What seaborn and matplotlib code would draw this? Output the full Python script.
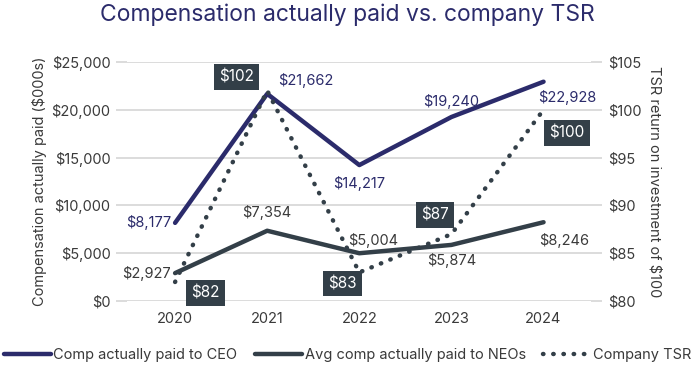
import matplotlib
matplotlib.use("Agg")
import matplotlib.pyplot as plt
import seaborn as sns
import pandas as pd
from matplotlib.lines import Line2D

# === data ===
years = ["2020", "2021", "2022", "2023", "2024"]
ceo_cap = [8177, 21662, 14217, 19240, 22928]
neo_cap = [2927, 7354, 5004, 5874, 8246]
tsr = [82, 102, 83, 87, 100]

NAVY = "#2b2b6b"
SLATE = "#333f48"
GRID = "#d9d9d9"
TXT = "#3a3a3a"

sns.set_theme(style="white")
plt.rcParams["font.family"] = ["Inter", "DejaVu Sans"]

df = pd.DataFrame({"year": years, "ceo": ceo_cap, "neo": neo_cap, "tsr": tsr})
df["x"] = range(len(years))

fig = plt.figure(figsize=(6.95, 3.75), dpi=100)
ax = fig.add_axes([0.183, 0.197, 0.668, 0.638])
ax2 = ax.twinx()

sns.lineplot(data=df, x="x", y="ceo", ax=ax, color=NAVY, lw=3.2, zorder=4)
sns.lineplot(data=df, x="x", y="neo", ax=ax, color=SLATE, lw=3.2, zorder=4)
sns.lineplot(data=df, x="x", y="tsr", ax=ax2, color=SLATE, lw=3.2,
             linestyle=(0, (0.1, 2.2)), dash_capstyle="round", zorder=3)

ax.set_xlim(-0.52, 4.52)
ax.set_ylim(0, 25000)
ax2.set_ylim(80, 105)
ax.set_yticks(range(0, 25001, 5000))
ax.set_yticklabels([f"${v:,}" for v in range(0, 25001, 5000)])
ax2.set_yticks(range(80, 106, 5))
ax2.set_yticklabels([f"${v}" for v in range(80, 106, 5)])
ax.set_xticks(df["x"])
ax.set_xticklabels(years)
ax.yaxis.grid(True, color=GRID, lw=1.3)
ax.set_axisbelow(True)
for a in (ax, ax2):
    for s in a.spines.values():
        s.set_visible(False)
    a.tick_params(axis="y", length=8, color=GRID, width=1.3, labelsize=10.5,
                  labelcolor=TXT, pad=4)
ax.tick_params(axis="x", length=0, labelsize=10.5, labelcolor=TXT, pad=8)
ax.set_xlabel("")
ax.set_ylabel("Compensation actually paid ($000s)", fontsize=10.5, color=TXT, labelpad=3)
ax2.set_ylabel("TSR return on investment of $100", fontsize=10.5, color=TXT,
               rotation=270, labelpad=14)

# value labels (offsets in points)
ceo_off = [(-3, 0, "right", "center"), (8, 4, "left", "bottom"),
           (0, -8, "center", "top"), (0, 6, "center", "bottom"),
           (-4, -6, "left", "top")]
neo_off = [(-3, 0, "right", "center"), (0, 8, "center", "bottom"),
           (-8, 4, "left", "bottom"), (0, -6, "center", "top"),
           (-3, -8, "left", "top")]
for i, (dx, dy, ha, va) in enumerate(ceo_off):
    ax.annotate(f"${ceo_cap[i]:,}", (i, ceo_cap[i]), xytext=(dx, dy),
                textcoords="offset points", ha=ha, va=va, fontsize=10.5, color=NAVY)
for i, (dx, dy, ha, va) in enumerate(neo_off):
    ax.annotate(f"${neo_cap[i]:,}", (i, neo_cap[i]), xytext=(dx, dy),
                textcoords="offset points", ha=ha, va=va, fontsize=10.5, color=TXT)

tsr_off = [(22, -8), (-22, 10), (-12, -8), (-12, 14), (17, -17)]
for i, (dx, dy) in enumerate(tsr_off):
    ax2.annotate(f"${tsr[i]}", (i, tsr[i]), xytext=(dx, dy),
                 textcoords="offset points", ha="center", va="center",
                 fontsize=11, color="white", zorder=6,
                 bbox=dict(boxstyle="square,pad=0.35", fc=SLATE, ec="none"))

fig.suptitle("Compensation actually paid vs. company TSR", x=0.5, y=0.99,
             fontsize=16.5, color=NAVY)

handles = [Line2D([], [], color=NAVY, lw=3.2),
           Line2D([], [], color=SLATE, lw=3.2),
           Line2D([], [], color=SLATE, lw=3.2, linestyle=(0, (0.1, 2.2)),
                  dash_capstyle="round")]
labels = ["Comp actually paid to CEO", "Avg comp actually paid to NEOs", "Company TSR"]
fig.legend(handles, labels, loc="lower center", bbox_to_anchor=(0.5, 0.0), ncol=3,
           frameon=False, fontsize=10.5, handlelength=3.2, handletextpad=0.2,
           columnspacing=1.2, labelcolor=TXT)

fig.savefig("out.png", dpi=100)
